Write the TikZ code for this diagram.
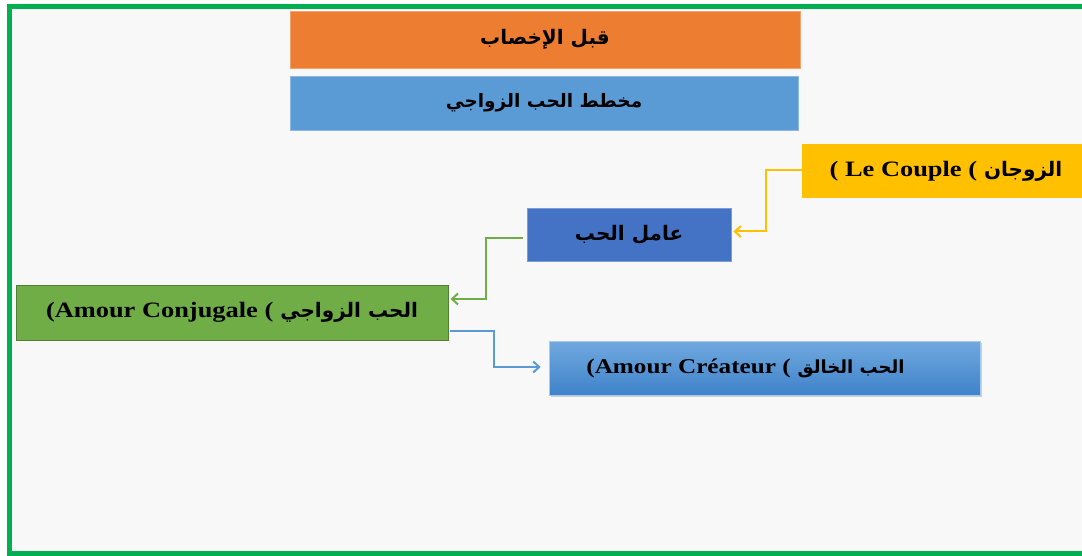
\documentclass[tikz,border=0pt]{standalone}
\usepackage{fontspec}
\usetikzlibrary{arrows.meta,shadows}
\TeXXeTstate=1
\newfontfamily\arabicfont[Script=Arabic]{DejaVu Sans}
\newfontfamily\latinfont[FakeStretch=1.2]{Liberation Serif}
\definecolor{frameGreen}{HTML}{00B050}
\definecolor{paper}{HTML}{F8F8F8}
\definecolor{orangeBox}{HTML}{ED7D31}
\definecolor{skyBox}{HTML}{5B9BD5}
\definecolor{goldBox}{HTML}{FFC000}
\definecolor{navyBox}{HTML}{4472C4}
\definecolor{leafBox}{HTML}{70AD47}
\definecolor{leafEdge}{HTML}{507E32}
\definecolor{gradTop}{HTML}{70A9DE}
\definecolor{gradBot}{HTML}{3F82CA}
% Arabic run (right to left) and Latin run, each with an optional size
\newcommand{\ar}[2][20]{{\arabicfont\bfseries\fontsize{#1}{24}\selectfont\beginR #2\endR}}
\newcommand{\la}[2][22]{{\latinfont\bfseries\fontsize{#1}{24}\selectfont #2}}
\begin{document}
\begin{tikzpicture}[x=1pt,y=-1pt,
  box/.style={rectangle,inner sep=0pt,text=black},
  link/.style={line width=2pt,-{Straight Barb[length=6pt,width=11pt,line width=2pt]}}]
\useasboundingbox (0,0) rectangle (1082,556);
\fill[white] (0,0) rectangle (1082,556);
\begin{scope}
\clip (0,0) rectangle (1082,556);
\fill[paper] (9.5,6.5) rectangle (1095,553);
\draw[frameGreen,line width=5pt] (9.5,6.5) rectangle (1095,553);
\end{scope}

% header boxes
\node[box,fill=orangeBox,draw=orangeBox!70!white,line width=0.8pt,minimum width=510pt,minimum height=57pt] (title) at (545,39.5) {\ar{قبل الإخصاب}};
\node[box,fill=skyBox,draw=skyBox!70!white,line width=0.8pt,minimum width=508pt,minimum height=54pt] (scheme) at (544,103) {\ar[18.5]{مخطط الحب الزواجي}};

% diagram boxes
\node[box,fill=goldBox,minimum width=288pt,minimum height=54pt] (couple) at (946,171) {\la{( Le Couple (}\hspace{7pt}\ar{الزوجان}};
\node[box,fill=navyBox,draw=navyBox!70!white,line width=0.8pt,minimum width=204pt,minimum height=53pt] (factor) at (629,234.5) {\ar{عامل الحب}};
\node[box,fill=leafBox,draw=leafEdge,line width=1pt,minimum width=432pt,minimum height=55pt] (conj) at (232,312.5) {\la{(Amour Conjugale (}\hspace{7pt}\ar{الحب الزواجي}};
\node[box,top color=gradTop,bottom color=gradBot,draw=gradTop!60!white,line width=0.6pt,minimum width=431pt,minimum height=54pt,
  drop shadow={shadow xshift=2pt,shadow yshift=-2pt,opacity=0.35}] (creat) at (764.5,368) {\la[21]{(Amour Créateur (}\hspace{7pt}\ar[18]{الحب الخالق}\kern38pt};

% connectors
\draw[link,goldBox] ([yshift=1pt]couple.west) -- ++(-36,0) |- ([xshift=2pt,yshift=3pt]factor.east);
\draw[link,leafBox] ([xshift=-4pt,yshift=-3.5pt]factor.west) -- ++(-37,0) |- ([xshift=2pt,yshift=13.5pt]conj.east);
\draw[link,skyBox] ([xshift=1pt,yshift=-18.5pt]conj.east) -- ++(44,0) |- ([xshift=-8pt,yshift=1pt]creat.west);
\end{tikzpicture}
\end{document}
